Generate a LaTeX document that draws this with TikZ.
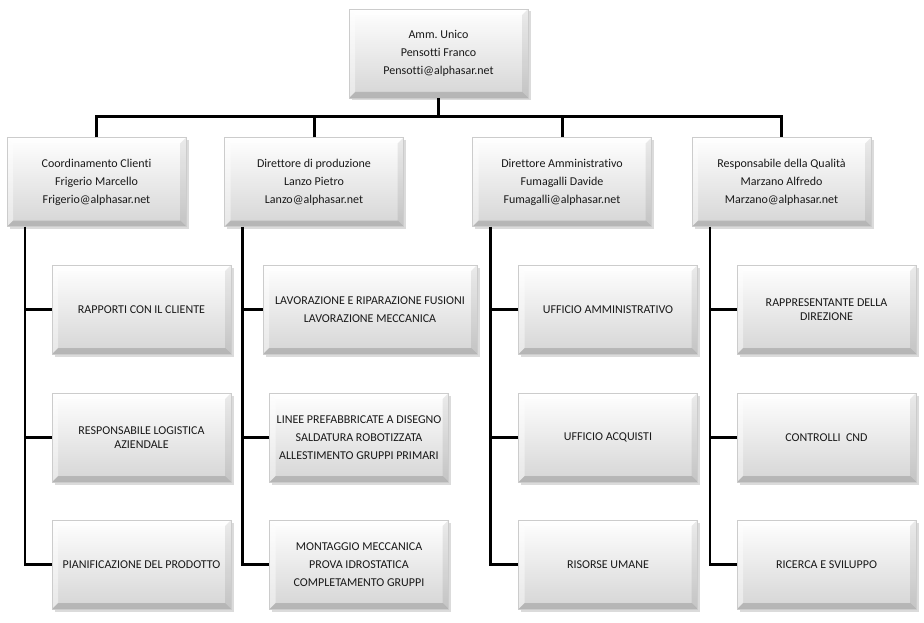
\documentclass[tikz,border=0pt]{standalone}
\usepackage{fontspec}
\setmainfont[Ligatures=NoCommon]{Carlito}
\frenchspacing
\usetikzlibrary{calc, shadows}
\newcommand{\orgfont}{\fontsize{12}{18}\selectfont}
\tikzset{
  x=1pt, y=-1pt,
  orgbox/.style={draw=gray!40, line width=0.4pt, top color=white, bottom color=gray!33,
    minimum width=179pt, minimum height=89pt, inner sep=2pt, align=center,
    font=\orgfont, text=black!90,
    drop shadow={shadow xshift=2.5pt, shadow yshift=-2.5pt, opacity=0.35, fill=gray!80},
    path picture={
      \fill[white, opacity=0.75] (path picture bounding box.north west) -- (path picture bounding box.north east)
        -- ([xshift=-6pt, yshift=-6pt]path picture bounding box.north east) -- ([xshift=6pt, yshift=-6pt]path picture bounding box.north west) -- cycle;
      \fill[white, opacity=0.45] (path picture bounding box.north west) -- ([xshift=6pt, yshift=-6pt]path picture bounding box.north west)
        -- ([xshift=6pt, yshift=6pt]path picture bounding box.south west) -- (path picture bounding box.south west) -- cycle;
      \fill[black, opacity=0.08] (path picture bounding box.north east) -- ([xshift=-6pt, yshift=-6pt]path picture bounding box.north east)
        -- ([xshift=-6pt, yshift=6pt]path picture bounding box.south east) -- (path picture bounding box.south east) -- cycle;
      \fill[black, opacity=0.15] (path picture bounding box.south west) -- ([xshift=6pt, yshift=6pt]path picture bounding box.south west)
        -- ([xshift=-6pt, yshift=6pt]path picture bounding box.south east) -- (path picture bounding box.south east) -- cycle;
    }},
  link/.style={line width=2.6pt, black},
  trunk/.style={line width=3pt, black}
}
\begin{document}
\begin{tikzpicture}
\path[use as bounding box, fill=white] (0,0) rectangle (924,623);
\coordinate (bus) at (0,117);

\node[orgbox] (top) at (438.5,53.5) {Amm. Unico\\Pensotti Franco\\Pensotti@alphasar.net};

\node[orgbox] (coord) at (96.5,182) {Coordinamento Clienti\\Frigerio Marcello\\Frigerio@alphasar.net};
\node[orgbox] (prod) at (314,182) {Direttore di produzione\\Lanzo Pietro\\Lanzo@alphasar.net};
\node[orgbox] (amm) at (562,182) {Direttore Amministrativo\\Fumagalli Davide\\Fumagalli@alphasar.net};
\node[orgbox] (qual) at (781.5,182) {Responsabile della Qualità\\Marzano Alfredo\\Marzano@alphasar.net};

\node[orgbox] (coord1) at (141.5,309.5) {RAPPORTI CON IL CLIENTE};
\node[orgbox] (coord2) at (141.5,437.5) {RESPONSABILE LOGISTICA\\[-4.5pt]AZIENDALE};
\node[orgbox] (coord3) at (141.5,564.5) {PIANIFICAZIONE DEL PRODOTTO};

\node[orgbox, minimum width=214pt] (prod1) at (370,309.5) {LAVORAZIONE E RIPARAZIONE FUSIONI\\LAVORAZIONE MECCANICA};
\node[orgbox] (prod2) at (359,437.5) {LINEE PREFABBRICATE A DISEGNO\\SALDATURA ROBOTIZZATA\\ALLESTIMENTO GRUPPI PRIMARI};
\node[orgbox] (prod3) at (359,564.5) {MONTAGGIO MECCANICA\\PROVA IDROSTATICA\\COMPLETAMENTO GRUPPI};

\node[orgbox] (amm1) at (608,309.5) {UFFICIO AMMINISTRATIVO};
\node[orgbox] (amm2) at (608,437.5) {UFFICIO ACQUISTI};
\node[orgbox] (amm3) at (608,564.5) {RISORSE UMANE};

\node[orgbox] (qual1) at (826.5,309.5) {RAPPRESENTANTE DELLA\\[-4.5pt]DIREZIONE};
\node[orgbox] (qual2) at (826.5,437.5) {CONTROLLI\ \ CND};
\node[orgbox] (qual3) at (826.5,564.5) {RICERCA E SVILUPPO};

\draw[trunk] (top.south) -- (top.south |- bus);
\draw[trunk] (coord.north) |- (top.south |- bus) -| (qual.north);
\draw[trunk] (prod.north) -- (prod.north |- bus);
\draw[trunk] (amm.north) -- (amm.north |- bus);

\foreach \c in {coord, prod, amm, qual} {
  \coordinate (\c-spine) at ([xshift=18pt]\c.south west);
  \draw[link] (\c-spine) |- (\c3.west);
  \draw[link] (\c1.west) -- (\c1.west -| \c-spine);
  \draw[link] (\c2.west) -- (\c2.west -| \c-spine);
}
\end{tikzpicture}
\end{document}
